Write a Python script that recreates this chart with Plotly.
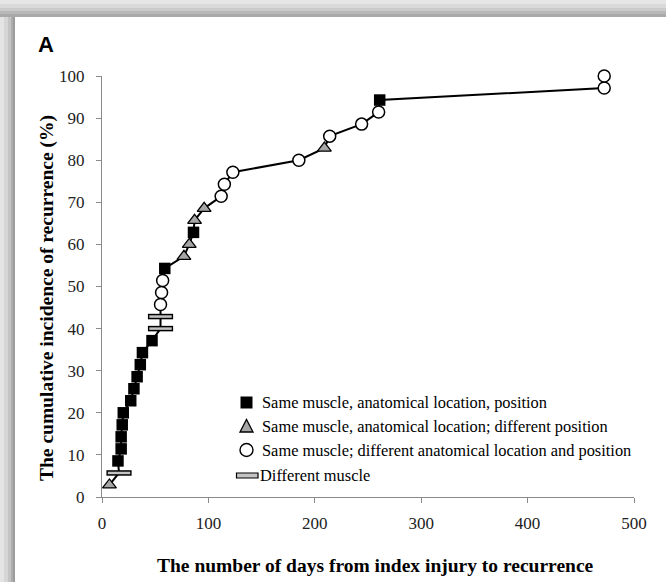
import plotly.graph_objects as go

# ---- data ----
days = [7, 16, 15, 18, 18, 19, 20, 27, 30, 33, 36, 38, 47, 55, 55, 55, 56, 57, 59,
        77, 82, 86, 87, 96, 112, 115, 123, 185, 209, 214, 244, 260, 261, 472, 472]
incidence = [2.86, 5.71, 8.57, 11.43, 14.29, 17.14, 20.00, 22.86, 25.71, 28.57,
             31.43, 34.29, 37.14, 40.00, 42.86, 45.71, 48.57, 51.43, 54.29, 57.14,
             60.00, 62.86, 65.71, 68.57, 71.43, 74.29, 77.14, 80.00, 82.86, 85.71,
             88.57, 91.43, 94.29, 97.14, 100.00]
category = ["T", "D", "S", "S", "S", "S", "S", "S", "S", "S", "S", "S", "S", "D", "D",
            "C", "C", "C", "S", "T", "T", "S", "T", "T", "C", "C", "C", "C", "T", "C",
            "C", "C", "S", "C", "C"]
legend_labels = {
    "S": "Same muscle, anatomical location, position",
    "T": "Same muscle, anatomical location; different position",
    "C": "Same muscle; different anatomical location and position",
    "D": "Different muscle",
}
x_ticks = [0, 100, 200, 300, 400, 500]
y_ticks = [0, 10, 20, 30, 40, 50, 60, 70, 80, 90, 100]

# ---- layout geometry ----
W, H = 666, 582
ML, MR, MT, MB = 102, 32, 76, 85
PW, PH = W - ML - MR, H - MT - MB


def px(x):
    return (x - ML) / PW


def py(y):
    return (H - MB - y) / PH


SERIF = "Liberation Serif, Times New Roman, serif"


def pick(cat):
    xs = [d for d, c in zip(days, category) if c == cat]
    ys = [v for v, c in zip(incidence, category) if c == cat]
    return xs, ys


fig = go.Figure()
fig.add_trace(go.Scatter(x=days, y=incidence, mode="lines",
                         line=dict(color="black", width=2), showlegend=False,
                         cliponaxis=False))
xs, ys = pick("S")
fig.add_trace(go.Scatter(x=xs, y=ys, mode="markers", name=legend_labels["S"],
                         marker=dict(symbol="square", size=11.5, color="black",
                                     line=dict(width=0)),
                         showlegend=False, cliponaxis=False))
xs, ys = pick("T")
fig.add_trace(go.Scatter(x=xs, y=ys, mode="markers", name=legend_labels["T"],
                         marker=dict(symbol="triangle-up", size=12, color="#a6a6a6",
                                     line=dict(width=1.3, color="black")),
                         showlegend=False, cliponaxis=False))
xs, ys = pick("C")
fig.add_trace(go.Scatter(x=xs, y=ys, mode="markers", name=legend_labels["C"],
                         marker=dict(symbol="circle", size=12, color="white",
                                     line=dict(width=1.5, color="black")),
                         showlegend=False, cliponaxis=False))
xs, ys = pick("D")
fig.add_trace(go.Scatter(x=xs, y=ys, mode="markers", name=legend_labels["D"],
                         marker=dict(symbol="line-ew", size=18,
                                     line=dict(width=5.5, color="black")),
                         showlegend=False, cliponaxis=False))
fig.add_trace(go.Scatter(x=xs, y=ys, mode="markers", name=legend_labels["D"],
                         marker=dict(symbol="line-ew", size=16,
                                     line=dict(width=2.5, color="#c4c4c4")),
                         showlegend=False, cliponaxis=False))

shapes = []
# frame: grey borders on the left and top
left_cols = [(0, 4, "#e4e4e4"), (4, 8, "#d6d6d6"), (8, 11, "#c4c4c4"),
             (11, 13, "#adadad"), (13, 15, "#9c9c9c")]
for a, b, c in left_cols:
    shapes.append(dict(type="rect", xref="paper", yref="paper", x0=px(a), x1=px(b),
                       y0=py(H), y1=py(0), fillcolor=c, line=dict(width=0), layer="below"))
top_rows = [(0, 4, "#e6e6e6"), (4, 8, "#d9d9d9"), (8, 11, "#cacaca"),
            (11, 14, "#b8b8b8"), (14, 17, "#a9a9a9")]
for a, b, c in top_rows:
    shapes.append(dict(type="rect", xref="paper", yref="paper", x0=px(0), x1=px(W),
                       y0=py(b), y1=py(a), fillcolor=c, line=dict(width=0), layer="below"))

# legend symbols (drawn in pixel space)
lx = 246.5
rows = [402.5, 426, 450, 475.5]
shapes.append(dict(type="rect", xref="paper", yref="paper", x0=px(lx - 6), x1=px(lx + 6),
                   y0=py(rows[0] + 6), y1=py(rows[0] - 6), fillcolor="black",
                   line=dict(width=0)))
shapes.append(dict(type="path", xref="paper", yref="paper",
                   path="M {} {} L {} {} L {} {} Z".format(px(lx - 6.5), py(rows[1] + 6),
                                                          px(lx + 6.5), py(rows[1] + 6),
                                                          px(lx), py(rows[1] - 6.5)),
                   fillcolor="#a6a6a6", line=dict(width=1.3, color="black")))
shapes.append(dict(type="circle", xref="paper", yref="paper", x0=px(lx - 6.5), x1=px(lx + 6.5),
                   y0=py(rows[2] + 6.5), y1=py(rows[2] - 6.5), fillcolor="white",
                   line=dict(width=1.4, color="black")))
shapes.append(dict(type="rect", xref="paper", yref="paper", x0=px(236.5), x1=px(258),
                   y0=py(rows[3] + 2.5), y1=py(rows[3] - 2.5), fillcolor="#c4c4c4",
                   line=dict(width=1.2, color="black")))

annotations = []
text_x = [260, 260, 260, 258]
for (k, yy, tx) in zip(["S", "T", "C", "D"], rows, text_x):
    annotations.append(dict(text=legend_labels[k], xref="paper", yref="paper",
                            x=px(tx), y=py(yy), xanchor="left", yanchor="middle",
                            showarrow=False, font=dict(family=SERIF, size=16.4, color="black")))
annotations.append(dict(text="<b>The number of days from index injury to recurrence</b>",
                        xref="paper", yref="paper", x=px(375), y=py(565),
                        xanchor="center", yanchor="middle", showarrow=False,
                        font=dict(family=SERIF, size=19.5, color="black")))
annotations.append(dict(text="<b>The cumulative incidence of recurrence (%)</b>",
                        xref="paper", yref="paper", x=px(47), y=py(298),
                        xanchor="center", yanchor="middle", showarrow=False, textangle=-90,
                        font=dict(family=SERIF, size=19.5, color="black")))
annotations.append(dict(text="<b>A</b>", xref="paper", yref="paper", x=px(36), y=py(45),
                        xanchor="left", yanchor="middle", showarrow=False,
                        font=dict(family="Liberation Sans, Arial, sans-serif", size=22,
                                  color="black")))

axis_common = dict(showgrid=False, zeroline=False, showline=True, linecolor="#8a8a8a",
                   linewidth=1.2, ticks="outside", ticklen=5, tickcolor="#8a8a8a",
                   tickwidth=1.2, tickfont=dict(family=SERIF, size=17, color="#222222"))

fig.update_layout(
    width=W, height=H, margin=dict(l=ML, r=MR, t=MT, b=MB, autoexpand=False),
    paper_bgcolor="white", plot_bgcolor="white",
    xaxis=dict(range=[0, 500], tickvals=x_ticks, ticklabelstandoff=5, **axis_common),
    yaxis=dict(range=[0, 100], tickvals=y_ticks, ticklabelstandoff=8, **axis_common),
    shapes=shapes, annotations=annotations, showlegend=False,
)

fig.write_html("out.html")
